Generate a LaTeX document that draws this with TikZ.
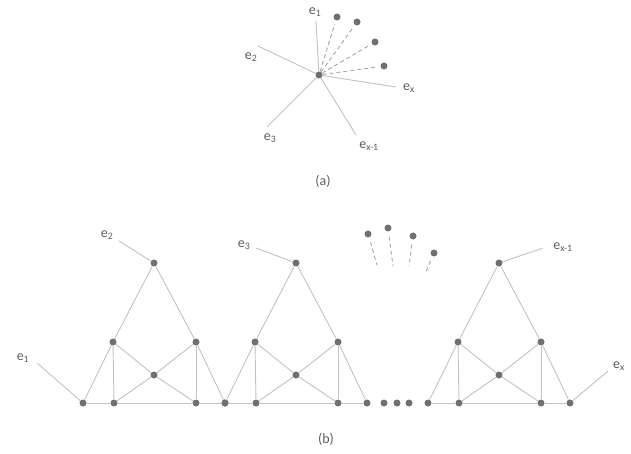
\documentclass[tikz,border=0pt]{standalone}
\usepackage{fontspec}
\setmainfont{Carlito}
\usetikzlibrary{positioning}
\definecolor{edgegray}{HTML}{C2C2C2}
\definecolor{dotgray}{HTML}{707070}
\definecolor{labelgray}{HTML}{5C5C5C}

\begin{document}
\begin{tikzpicture}[x=1pt, y=-1pt,
    every node/.style={font=\fontsize{14}{16}\selectfont, text=labelgray},
    vertex/.style={circle, fill=dotgray, inner sep=0pt, minimum size=7pt},
    edge/.style={draw=edgegray, line width=0.9pt},
    ghost/.style={draw=edgegray!85!black, line width=0.9pt, dash pattern=on 4pt off 3pt},
]

% Frame
\useasboundingbox (0,0) rectangle (631,454);

% (a) hub vertex with its edges
\node[vertex] (hub) at (319,75) {};
\coordinate (ea1) at (316,21);
\coordinate (ea2) at (258,46);
\coordinate (ea3) at (267,127);
\coordinate (eaxm) at (356,135);
\coordinate (eax) at (396,87);
\draw[edge] (hub) -- (ea1);
\draw[edge] (hub) -- (ea2);
\draw[edge] (hub) -- (ea3);
\draw[edge] (hub) -- (eaxm);
\draw[edge] (hub) -- (eax);

% (a) labels
\node (la1) at (315,12) {e\textsubscript{1}};
\node (la2) at (251,57) {e\textsubscript{2}};
\node (la3) at (270,138) {e\textsubscript{3}};
\node (laxm) at (369,146) {e\textsubscript{x-1}};
\node (lax) at (409,88) {e\textsubscript{x}};

% (a) further vertices, dashed
\node[vertex] (da1) at (337,17) {};
\node[vertex] (da2) at (357,22) {};
\node[vertex] (da3) at (375,42) {};
\node[vertex] (da4) at (384,66) {};
\foreach \d in {da1,da2,da3,da4}
    \draw[ghost, shorten >=4pt] (hub) -- (\d);

\node (capa) at (323,181) {(a)};

% (b) triangles
\foreach \t/\x in {1/83, 2/225, 3/428} {
    \node[vertex] (t\t-ol) at (\x,403) {};
    \node[vertex] (t\t-il) at (\x+31,403) {};
    \node[vertex] (t\t-ir) at (\x+113,403) {};
    \node[vertex] (t\t-or) at (\x+142,403) {};
    \node[vertex] (t\t-ml) at (\x+30,342) {};
    \node[vertex] (t\t-mr) at (\x+113,342) {};
    \node[vertex] (t\t-c) at (\x+71,375) {};
    \node[vertex] (t\t-top) at (\x+71,263) {};
    \draw[edge] (t\t-ol) -- (t\t-ml) -- (t\t-top) -- (t\t-mr) -- (t\t-or);
    \draw[edge] (t\t-ol) -- (t\t-il) -- (t\t-ir) -- (t\t-or);
    \draw[edge] (t\t-ml) -- (t\t-il);
    \draw[edge] (t\t-mr) -- (t\t-ir);
    \draw[edge] (t\t-ml) -- (t\t-c) -- (t\t-mr);
    \draw[edge] (t\t-il) -- (t\t-c) -- (t\t-ir);
}

% (b) outer edges
\coordinate (eb1) at (37,363);
\coordinate (eb2) at (119,241);
\coordinate (eb3) at (256,248);
\coordinate (ebxm) at (543,248);
\coordinate (ebx) at (608,371);
\draw[edge] (t1-ol) -- (eb1);
\draw[edge] (t1-top) -- (eb2);
\draw[edge] (t2-top) -- (eb3);
\draw[edge] (t3-top) -- (ebxm);
\draw[edge] (t3-or) -- (ebx);

% (b) labels
\node (lb1) at (23,358) {e\textsubscript{1}};
\node (lb2) at (107,235) {e\textsubscript{2}};
\node (lb3) at (244,245) {e\textsubscript{3}};
\node (lbxm) at (563,247) {e\textsubscript{x-1}};
\node (lbx) at (619,366) {e\textsubscript{x}};

% (b) ellipsis
\node[vertex] (dots1) at (384,403) {};
\node[vertex] (dots2) at (397,403) {};
\node[vertex] (dots3) at (409,403) {};

% (b) loose vertices
\node[vertex] (fb1) at (368,234) {};
\node[vertex] (fb2) at (388,228) {};
\node[vertex] (fb3) at (413,236) {};
\node[vertex] (fb4) at (434,253) {};
\coordinate (fe1) at (377,265);
\coordinate (fe2) at (393,266);
\coordinate (fe3) at (409,266);
\coordinate (fe4) at (425,274);
\foreach \f in {1,2,3,4}
    \draw[ghost, shorten <=5pt] (fb\f) -- (fe\f);

\node (capb) at (326,439) {(b)};

\end{tikzpicture}
\end{document}
